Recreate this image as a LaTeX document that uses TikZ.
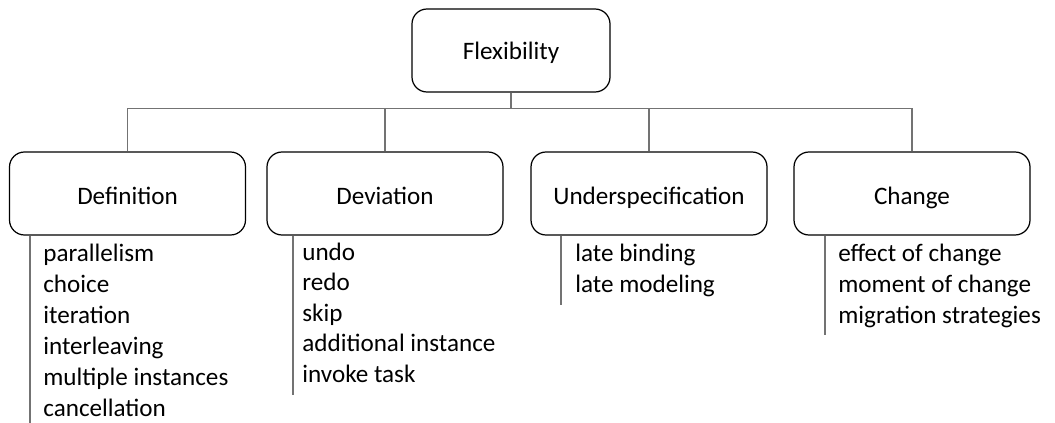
\documentclass[tikz,border=0pt]{standalone}
\usepackage{fontspec}
\setmainfont{Carlito}
\usetikzlibrary{positioning}
\begin{document}
\begin{tikzpicture}[
	topic/.style={draw, rounded corners=0.3cm, line width=0.7pt, minimum width=4.72cm, minimum height=1.66cm, text height=12.5pt, text depth=0pt, font=\fontsize{14.3}{17.5}\selectfont},
	link/.style={draw=black!55, line width=0.6pt},
	item/.style={anchor=base west, inner sep=0pt, font=\fontsize{14.3}{17.5}\selectfont}
	]
	\useasboundingbox (0,0) rectangle (21.1,-8.46);
	\node[topic, minimum width=3.96cm, text height=10.8pt] (flex) at (10.22,-1.01) {Flexibility};
	\node[topic] (def) at (2.55,-3.87) {Definition};
	\node[topic] (dev) at (7.70,-3.87) {Deviation};
	\node[topic] (under) at (12.98,-3.87) {Underspecification};
	\node[topic] (change) at (18.24,-3.87) {Change};
	% tree
	\foreach \n in {def,dev,under,change}
		\draw[link] (flex.south) -- ++(0,-0.32) -| (\n.north);
	% lists
	\coordinate (defend) at (0.60,-8.5);
	\coordinate (devend) at (5.86,-7.90);
	\coordinate (underend) at (11.22,-6.10);
	\coordinate (changeend) at (16.50,-6.70);
	\foreach \n in {def,dev,under,change}
		\draw[link] (\n.south -| \n end) -- (\n end);
	\foreach \t [count=\i from 0] in {parallelism,choice,iteration,interleaving,multiple instances,cancellation}
		\node[item] (def-\i) at (0.86,{-5.22-0.62*\i}) {\t};
	\foreach \t [count=\i from 0] in {undo,redo,skip,additional instance,invoke task}
		\node[item] (dev-\i) at (6.04,{-5.20-0.61*\i}) {\t};
	\foreach \t [count=\i from 0] in {late binding,late modeling}
		\node[item] (under-\i) at (11.50,{-5.22-0.62*\i}) {\t};
	\foreach \t [count=\i from 0] in {effect of change,moment of change,migration strategies}
		\node[item] (change-\i) at (16.76,{-5.22-0.62*\i}) {\t};
\end{tikzpicture}
\end{document}
